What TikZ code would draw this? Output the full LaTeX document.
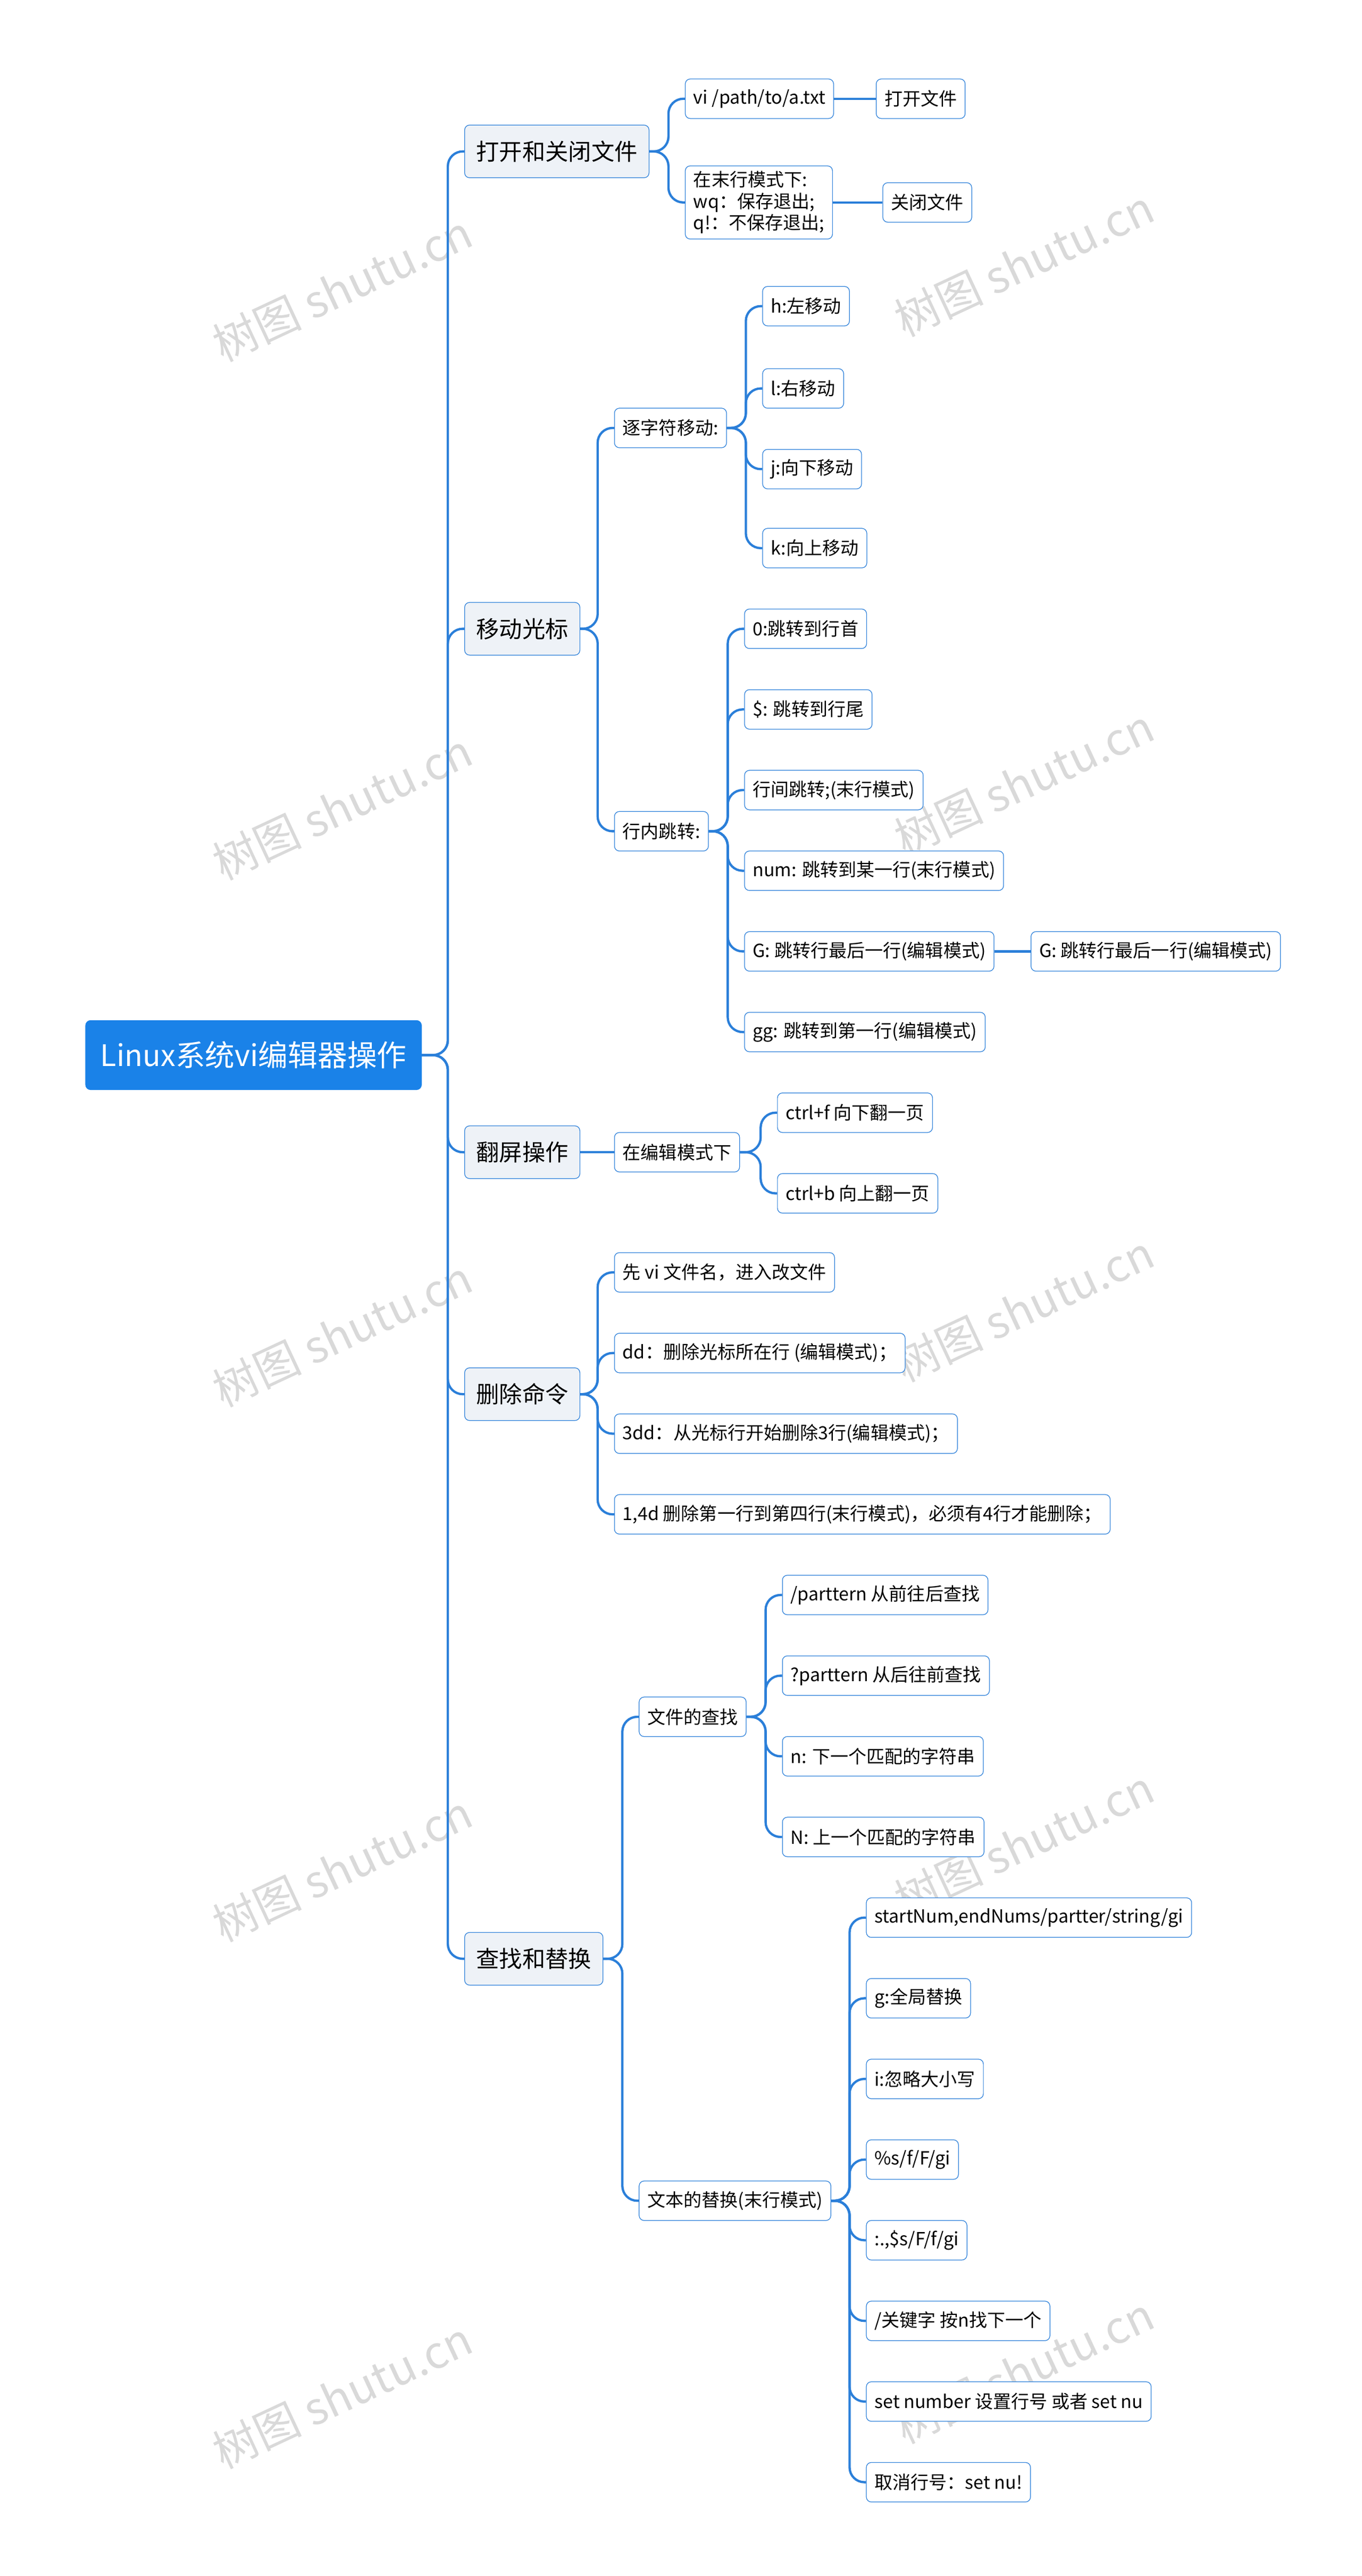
\documentclass[tikz,border=0pt]{standalone}
\usepackage{fontspec}
\setmainfont{Noto Sans CJK SC}
\usetikzlibrary{positioning}
\definecolor{lineblue}{HTML}{2B7FD9}
\definecolor{rootblue}{HTML}{1A82E8}
\definecolor{topfill}{HTML}{EEF2F7}
\tikzset{
  rootbox/.style={draw=rootblue, fill=rootblue, text=white, rounded corners=3pt, font=\fontsize{18}{21}\selectfont, minimum height=42pt, inner xsep=9pt},
  topbox/.style={draw=lineblue, fill=topfill, rounded corners=3pt, font=\fontsize{14}{16}\selectfont, minimum height=32pt, inner xsep=7pt, anchor=west},
  leafbox/.style={draw=lineblue, fill=white, rounded corners=3pt, font=\fontsize{11}{13}\selectfont, minimum height=24pt, inner xsep=5pt, anchor=west, align=left},
  conn/.style={draw=lineblue, line width=1.4pt, rounded corners=9pt},
  watermark/.style={text=gray!30, font=\fontsize{27}{30}\selectfont, rotate=25}
}
\newcommand{\conn}[2]{\draw[conn] (#1.east) -- ([xshift=-10pt]#2.west |- #1.east) |- (#2.west);}
\newcommand{\sconn}[2]{\draw[conn] (#1.east) -- (#2.west |- #1.east);}
\begin{document}
\begin{tikzpicture}[x=1pt,y=-1pt]
\useasboundingbox (0,0) rectangle (827,1565);

% watermarks
\foreach \y in {175,490,810,1135,1455} {
  \node[watermark] at (208,\y) {树图 shutu.cn};
  \node[watermark] at (622,\y-15) {树图 shutu.cn};
}

\node[rootbox] (root) at (154,641) {Linux系统vi编辑器操作};

% level 1
\node[topbox] (open) at (282,92) {打开和关闭文件};
\node[topbox] (move) at (282,382) {移动光标};
\node[topbox] (page) at (282,700) {翻屏操作};
\node[topbox] (del) at (282,847) {删除命令};
\node[topbox] (find) at (282,1190) {查找和替换};

% open / close
\node[leafbox] (vi) at (416,60) {vi /path/to/a.txt};
\node[leafbox] (quit) at (416,123) {在末行模式下:\\wq：保存退出;\\q!：不保存退出;};
\node[leafbox] (openf) at (532,60) {打开文件};
\node[leafbox] (closef) at (536,123) {关闭文件};

% move
\node[leafbox] (chr) at (373,260) {逐字符移动:};
\node[leafbox] (h) at (463,186) {h:左移动};
\node[leafbox] (l) at (463,236) {l:右移动};
\node[leafbox] (j) at (463,285) {j:向下移动};
\node[leafbox] (k) at (463,333) {k:向上移动};
\node[leafbox] (line) at (373,505) {行内跳转:};
\node[leafbox] (zero) at (452,382) {0:跳转到行首};
\node[leafbox] (dollar) at (452,431) {\$: 跳转到行尾};
\node[leafbox] (between) at (452,480) {行间跳转;(末行模式)};
\node[leafbox] (num) at (452,529) {num: 跳转到某一行(末行模式)};
\node[leafbox] (glast) at (452,578) {G: 跳转行最后一行(编辑模式)};
\node[leafbox] (glast2) at (626,578) {G: 跳转行最后一行(编辑模式)};
\node[leafbox] (gg) at (452,627) {gg: 跳转到第一行(编辑模式)};

% page
\node[leafbox] (edit) at (373,700) {在编辑模式下};
\node[leafbox] (ctrlf) at (472,676) {ctrl+f 向下翻一页};
\node[leafbox] (ctrlb) at (472,725) {ctrl+b 向上翻一页};

% delete
\node[leafbox] (first) at (373,773) {先 vi 文件名，进入改文件};
\node[leafbox] (dd) at (373,822) {dd：删除光标所在行 (编辑模式)；};
\node[leafbox] (dd3) at (373,871) {3dd：从光标行开始删除3行(编辑模式)；};
\node[leafbox] (d14) at (373,920) {1,4d 删除第一行到第四行(末行模式)，必须有4行才能删除；};

% find / replace
\node[leafbox] (search) at (388,1043) {文件的查找};
\node[leafbox] (fwd) at (475,969) {/parttern 从前往后查找};
\node[leafbox] (bwd) at (475,1018) {?parttern 从后往前查找};
\node[leafbox] (nxt) at (475,1067) {n: 下一个匹配的字符串};
\node[leafbox] (prv) at (475,1116) {N: 上一个匹配的字符串};
\node[leafbox] (repl) at (388,1337) {文本的替换(末行模式)};
\node[leafbox] (r1) at (526,1165) {startNum,endNums/partter/string/gi};
\node[leafbox] (r2) at (526,1214) {g:全局替换};
\node[leafbox] (r3) at (526,1263) {i:忽略大小写};
\node[leafbox] (r4) at (526,1312) {\%s/f/F/gi};
\node[leafbox] (r5) at (526,1361) {:.,\$s/F/f/gi};
\node[leafbox] (r6) at (526,1410) {/关键字 按n找下一个};
\node[leafbox] (r7) at (526,1459) {set number 设置行号 或者 set nu};
\node[leafbox] (r8) at (526,1508) {取消行号：set nu!};

% connectors
\foreach \c in {open,move,page,del,find} {\conn{root}{\c}}
\foreach \c in {vi,quit} {\conn{open}{\c}}
\sconn{vi}{openf}
\sconn{quit}{closef}
\foreach \c in {chr,line} {\conn{move}{\c}}
\foreach \c in {h,l,j,k} {\conn{chr}{\c}}
\foreach \c in {zero,dollar,between,num,glast,gg} {\conn{line}{\c}}
\sconn{glast}{glast2}
\sconn{page}{edit}
\foreach \c in {ctrlf,ctrlb} {\conn{edit}{\c}}
\foreach \c in {first,dd,dd3,d14} {\conn{del}{\c}}
\foreach \c in {search,repl} {\conn{find}{\c}}
\foreach \c in {fwd,bwd,nxt,prv} {\conn{search}{\c}}
\foreach \c in {r1,r2,r3,r4,r5,r6,r7,r8} {\conn{repl}{\c}}
\end{tikzpicture}
\end{document}
